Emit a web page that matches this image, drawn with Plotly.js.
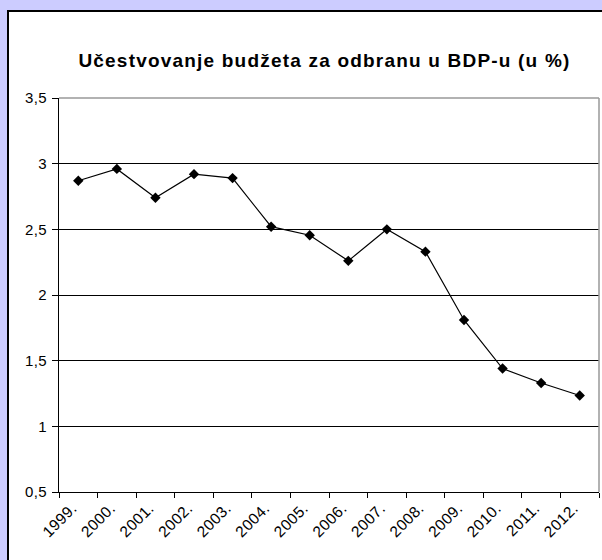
<!DOCTYPE html>
<html>
<head>
<meta charset="utf-8">
<script src="https://cdn.plot.ly/plotly-3.0.1.min.js"></script>
<style>
  html, body { margin: 0; padding: 0; width: 602px; height: 560px; overflow: hidden; background: #CCCCFF; }
  #frame { position: absolute; left: 7px; top: 10px; width: 595px; height: 550px; background: #ffffff;
           border-top: 2px solid #000; border-left: 2px solid #000; box-sizing: border-box; }
  #chart { width: 593px; height: 548px; }
  #chart .gtitle { letter-spacing: 1.2px; }
  #chart .xtick text, #chart .ytick text { letter-spacing: 0.4px; }
</style>
</head>
<body>
<div id="frame"><div id="chart"></div></div>
<script>
const years = ["1999.", "2000.", "2001.", "2002.", "2003.", "2004.", "2005.", "2006.", "2007.", "2008.", "2009.", "2010.", "2011.", "2012."];
const share = [2.87, 2.96, 2.74, 2.92, 2.89, 2.52, 2.455, 2.26, 2.5, 2.33, 1.81, 1.44, 1.33, 1.235];
const chartTitle = "Učestvovanje budžeta za odbranu u BDP-u (u %)";

const trace = {
  x: years,
  y: share,
  type: "scatter",
  mode: "lines+markers",
  line: { color: "#000000", width: 1.2 },
  marker: { symbol: "diamond", size: 8, color: "#000000" },
  hoverinfo: "x+y"
};

const layout = {
  width: 593,
  height: 548,
  margin: { l: 50, r: 3, t: 86, b: 68 },
  paper_bgcolor: "#ffffff",
  plot_bgcolor: "#ffffff",
  separators: ",.",
  showlegend: false,
  font: { family: "Liberation Sans, Arial, sans-serif", color: "#000000", size: 15 },
  title: {
    text: "<b>" + chartTitle + "</b>",
    font: { family: "Liberation Sans, Arial, sans-serif", size: 19, color: "#000000" },
    x: 0.532, xanchor: "center",
    y: 0.912, yanchor: "middle"
  },
  xaxis: {
    type: "category",
    range: [-0.5, years.length - 0.5],
    tickson: "boundaries",
    ticks: "outside",
    ticklen: 5,
    tickcolor: "#000000",
    tickwidth: 1,
    tickangle: -45,
    ticklabelstandoff: 0,
    ticklabelshift: -6,
    showline: true,
    linecolor: "#000000",
    linewidth: 1,
    showgrid: false,
    zeroline: false,
    tickfont: { size: 15.5, color: "#000000" },
    fixedrange: true
  },
  yaxis: {
    range: [0.5, 3.5],
    dtick: 0.5,
    tick0: 0.5,
    ticks: "outside",
    ticklen: 6,
    tickcolor: "#000000",
    showline: true,
    linecolor: "#000000",
    linewidth: 1,
    showgrid: true,
    gridcolor: "#000000",
    gridwidth: 1,
    zeroline: false,
    tickfont: { size: 15, color: "#000000" },
    ticklabelstandoff: 2,
    fixedrange: true
  },
  shapes: [
    { type: "line", xref: "paper", yref: "paper", x0: 0, x1: 1, y0: 1, y1: 1, line: { color: "#999999", width: 1.5 }, layer: "above" },
    { type: "line", xref: "paper", yref: "paper", x0: 1, x1: 1, y0: 0, y1: 1, line: { color: "#999999", width: 1.5 }, layer: "above" }
  ]
};

Plotly.newPlot("chart", [trace], layout, { displayModeBar: false });
</script>
</body>
</html>
